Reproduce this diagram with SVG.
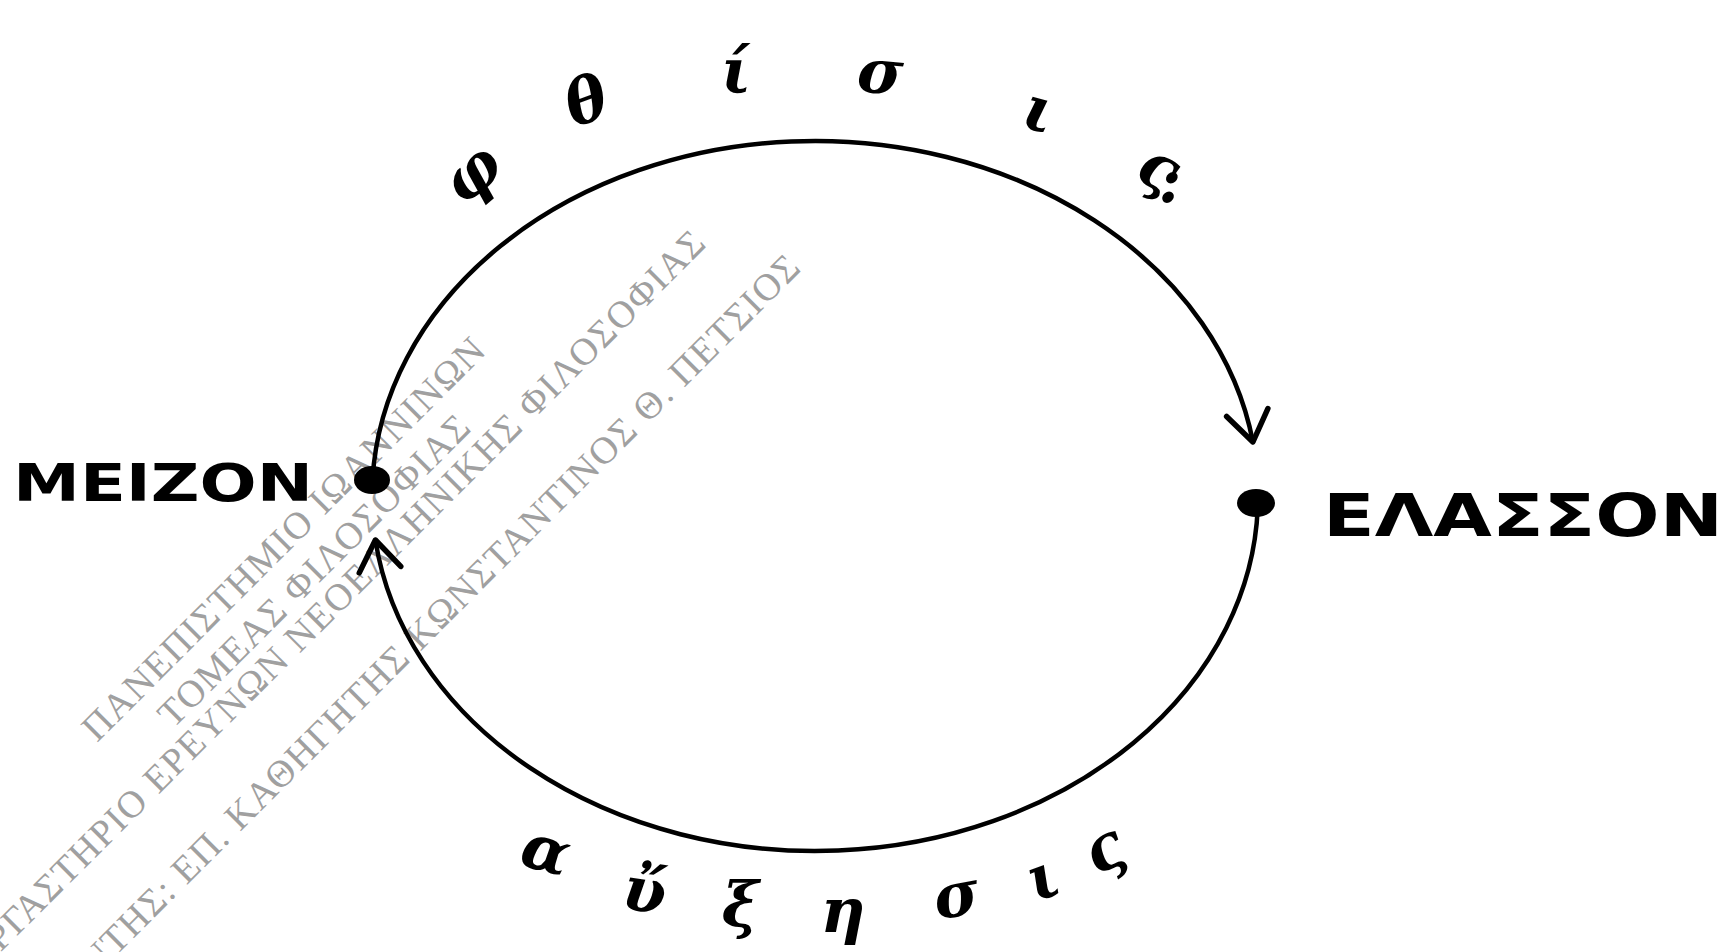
<svg xmlns="http://www.w3.org/2000/svg" width="1728" height="952" viewBox="0 0 1728 952">
<style>
.wm{font-family:"Liberation Serif","DejaVu Serif",serif;font-size:38px;letter-spacing:1.5px;fill:#a0a0a0}
.lbl{font-family:"DejaVu Sans","Liberation Sans",sans-serif;font-weight:bold;fill:#000}
.hw{font-family:"DejaVu Serif","Liberation Serif",serif;font-style:italic;font-weight:bold;font-size:62px;fill:#000;text-anchor:middle}
.arc{fill:none;stroke:#000;stroke-width:4.5;stroke-linecap:round}
.dot{fill:#000}
</style>
<defs>
<marker id="vhead" markerUnits="userSpaceOnUse" markerWidth="60" markerHeight="60" refX="0" refY="0" orient="auto" overflow="visible">
<path d="M -30 -21 L 0 0 L -30 21" fill="none" stroke="#000" stroke-width="5.5" stroke-linecap="round" stroke-linejoin="round"/>
</marker>
</defs>
<rect width="1728" height="952" fill="#fff"/>
<g id="watermark" transform="rotate(-45)">
<text class="wm" x="-180" y="594" text-anchor="middle">ΠΑΝΕΠΙΣΤΗΜΙΟ ΙΩΑΝΝΙΝΩΝ</text>
<text class="wm" x="-181" y="638" text-anchor="middle">ΤΟΜΕΑΣ ΦΙΛΟΣΟΦΙΑΣ</text>
<text class="wm" x="328" y="674" text-anchor="end" letter-spacing="2.5">ΕΡΓΑΣΤΗΡΙΟ ΕΡΕΥΝΩΝ ΝΕΟΕΛΛΗΝΙΚΗΣ ΦΙΛΟΣΟΦΙΑΣ</text>
<text class="wm" x="378" y="758" text-anchor="end">ΔΙΕΥΘΥΝΤΗΣ: ΕΠ. ΚΑΘΗΓΗΤΗΣ ΚΩΝΣΤΑΝΤΙΝΟΣ Θ. ΠΕΤΣΙΟΣ</text>
</g>
<g id="connectors">
<path id="arc-fthisis" class="arc" d="M 372.5 480 A 443 355 0 0 1 1252.9 442" marker-end="url(#vhead)"/>
<path id="arc-auxesis" class="arc" d="M 1257.9 503 A 443 355 0 0 1 375.4 540" marker-end="url(#vhead)"/>
</g>
<g id="node-meizon">
<ellipse class="dot" cx="372" cy="480" rx="18" ry="14"/>
<text class="lbl" x="13" y="501" font-size="52" textLength="300" lengthAdjust="spacingAndGlyphs">ΜΕΙΖΟΝ</text>
</g>
<g id="node-elasson">
<ellipse class="dot" cx="1256" cy="503" rx="19" ry="14"/>
<text class="lbl" x="1323" y="536" font-size="58" textLength="400" lengthAdjust="spacingAndGlyphs">ΕΛΑΣΣΟΝ</text>
</g>
<g id="label-fthisis">
<text class="hw" transform="translate(474,176) rotate(-40)" y="17">φ</text>
<text class="hw" transform="translate(586,100) rotate(-20)" y="22">θ</text>
<text class="hw" transform="translate(736,76)" y="16">ί</text>
<text class="hw" transform="translate(880,77) rotate(5)" y="16">σ</text>
<text class="hw" transform="translate(1038,115) rotate(15)" y="16">ι</text>
<text class="hw" transform="translate(1157,172) rotate(25)" y="16">ς</text>
<text class="hw" x="1170" y="202" font-size="20" fill="#555">:</text>
</g>
<g id="label-auxesis">
<text class="hw" transform="translate(545,855) rotate(15)" y="16">α</text>
<text class="hw" transform="translate(644,896) rotate(8)" y="16">ὔ</text>
<text class="hw" transform="translate(740,918)" y="8">ξ</text>
<text class="hw" transform="translate(843,916)" y="16">η</text>
<text class="hw" transform="translate(957,900) rotate(-10)" y="16">σ</text>
<text class="hw" transform="translate(1044,882) rotate(-20)" y="16">ι</text>
<text class="hw" transform="translate(1106,853) rotate(-30)" y="16">ς</text>
</g>
</svg>
